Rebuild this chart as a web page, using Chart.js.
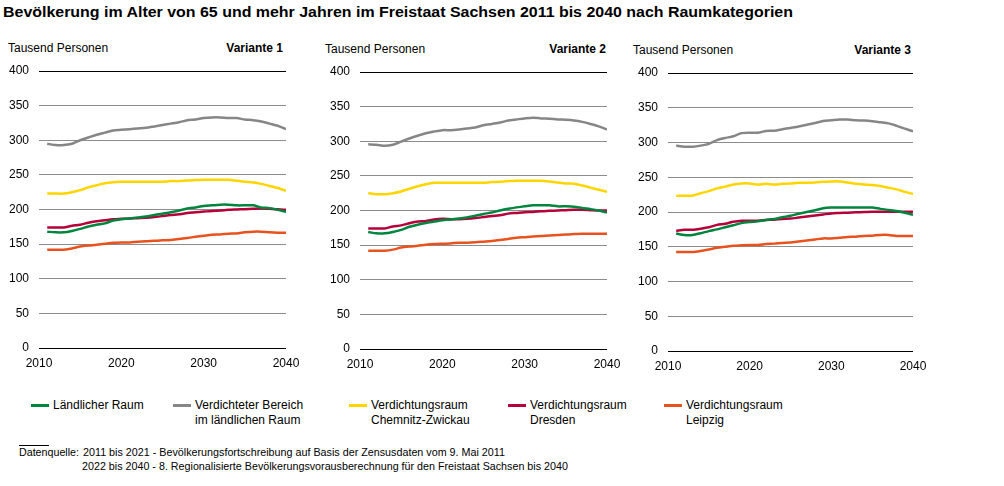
<!DOCTYPE html>
<html lang="de">
<head>
<meta charset="utf-8">
<title>Bevölkerung 65+ Sachsen</title>
<script src="https://cdn.jsdelivr.net/npm/chart.js@4.4.1/dist/chart.umd.min.js"></script>
<style>
  body { margin: 0; width: 1004px; height: 486px; background: #fff; position: relative; overflow: hidden;
         font-family: "Liberation Sans", Arial, sans-serif; color: #000; }
  .t { position: absolute; white-space: nowrap; line-height: 15px; font-size: 12px; }
  .fit { display: inline-block; transform-origin: left center; }
  .b { font-weight: bold; }
  canvas { position: absolute; }
  .mk { position: absolute; height: 3px; width: 18px; }
</style>
</head>
<body>

<div class="t b" style="left:3px;top:4px;font-size:14px;line-height:16px"><span class="fit" data-w="790">Bevölkerung im Alter von 65 und mehr Jahren im Freistaat Sachsen 2011 bis 2040 nach Raumkategorien</span></div>

<div class="t" style="left:8px;top:41px">Tausend Personen</div>
<div class="t b" style="right:721px;top:41px">Variante 1</div>
<div class="t" style="left:325px;top:42px">Tausend Personen</div>
<div class="t b" style="right:398px;top:42px">Variante 2</div>
<div class="t" style="left:633px;top:43px">Tausend Personen</div>
<div class="t b" style="right:93px;top:43px">Variante 3</div>

<canvas id="c1" width="310" height="320" style="left:0;top:60px;width:310px;height:320px"></canvas>
<canvas id="c2" width="310" height="320" style="left:321px;top:61px;width:310px;height:320px"></canvas>
<canvas id="c3" width="308" height="321" style="left:629px;top:62px;width:308px;height:321px"></canvas>

<div id="legend"></div>

<div style="position:absolute;left:19px;top:445px;width:30px;height:1px;background:#000"></div>
<div class="t" style="left:19px;top:445px;font-size:11px;line-height:14px"><span class="fit" data-w="60">Datenquelle:</span></div>
<div class="t" style="left:83px;top:445px;font-size:11px;line-height:14px"><span class="fit" data-w="422">2011 bis 2021 - Bevölkerungsfortschreibung auf Basis der Zensusdaten vom 9. Mai 2011</span></div>
<div class="t" style="left:82px;top:459px;font-size:11px;line-height:14px"><span class="fit" data-w="486">2022 bis 2040 - 8. Regionalisierte Bevölkerungsvorausberechnung für den Freistaat Sachsen bis 2040</span></div>

<script>
// Jahre 2011 bis 2040
const years = [2011, 2012, 2013, 2014, 2015, 2016, 2017, 2018, 2019, 2020,
               2021, 2022, 2023, 2024, 2025, 2026, 2027, 2028, 2029, 2030,
               2031, 2032, 2033, 2034, 2035, 2036, 2037, 2038, 2039, 2040];

const seriesNames = ['Ländlicher Raum', 'Verdichteter Bereich\nim ländlichen Raum',
                     'Verdichtungsraum\nChemnitz-Zwickau', 'Verdichtungsraum\nDresden', 'Verdichtungsraum\nLeipzig'];
const seriesColors = ['#00853f', '#868686', '#ffd500', '#b5003a', '#e8521e'];

const yTicks = [0, 50, 100, 150, 200, 250, 300, 350, 400];
const xTicks = [2010, 2020, 2030, 2040];

// Variante 1 (Tausend Personen)
const laendlich1   = [168, 167, 167, 169, 172, 175.5, 178, 180, 184, 186, 187, 188.5, 190, 192, 194, 196, 198.5, 201.5, 203, 205, 206, 207, 207, 206, 206, 206, 203, 202, 199.5, 196.5];
const verdichtet1  = [295, 293, 293, 295, 300, 304, 308, 311, 314, 315, 316, 317, 318, 320, 322, 324, 326, 329, 330, 332, 333, 333, 332, 332, 330, 329, 327, 324, 321, 316];
const chemnitz1    = [223, 223, 223, 225, 228, 232, 235, 238, 239.5, 240, 240, 240, 240, 240, 240, 241, 241, 242, 242.5, 243, 243, 243, 243, 241.5, 240, 239, 237, 234, 231, 227];
const dresden1     = [174, 174, 174, 176.5, 178, 181, 183, 184.5, 186, 186.5, 187, 187.5, 188, 189, 190.5, 192, 193, 195, 196, 197, 198, 198.5, 199.5, 200, 200.5, 201, 201.5, 201, 200.5, 199.5];
const leipzig1     = [142, 142, 142, 143.7, 146.5, 148, 149, 150.5, 152, 152.5, 152.5, 153.5, 154, 155, 155.5, 156, 157.5, 159, 160.5, 162, 163.5, 164, 165, 165.5, 167, 168, 168, 167, 166.5, 166.5];

// Variante 2
const laendlich2   = [169, 167, 167, 169, 172, 176.5, 179.5, 182, 184, 186, 187, 188.5, 190, 192.5, 195, 197, 200, 202.5, 204.5, 206, 207.5, 207.5, 207.5, 206, 206, 205.5, 203.5, 202, 200, 197];
const verdichtet2  = [295.5, 295, 293.5, 295, 299.5, 304, 308, 311.5, 314, 316, 316, 317, 318.5, 320, 323, 325, 327, 330, 331.5, 333, 334, 333, 332.5, 331.5, 331, 330, 328, 325, 321.5, 317];
const chemnitz2    = [225, 223.5, 223.5, 225, 227.5, 231.5, 235, 238, 240, 240, 240, 240, 240, 240, 240, 241, 241.5, 242.5, 243, 243, 243, 243, 242, 240.5, 239, 238.5, 236, 233, 230, 227];
const dresden2     = [174, 174, 174, 177, 178.5, 181.5, 184, 185, 187, 188, 187.5, 187.5, 188, 189, 190.5, 192, 193, 195.5, 196.5, 197.5, 198, 199, 199.5, 200, 200.5, 201, 201, 200.5, 200, 200];
const leipzig2     = [142, 142, 142, 143.5, 146.5, 148, 149, 150.5, 151.5, 152, 152.5, 153.5, 153.5, 154, 155, 156, 157.5, 159, 160.5, 161.5, 162.5, 163, 164, 164.5, 165.5, 166, 166.5, 166.5, 166.5, 166.5];

// Variante 3
const laendlich3   = [169, 167, 167, 169.5, 172.5, 175, 178, 181, 184, 185.5, 186.5, 188.5, 190, 192.5, 194.5, 197.5, 200, 202.5, 205.5, 206.5, 206.5, 206.5, 206.5, 206.5, 206.5, 204.5, 203, 201.5, 199, 196];
const verdichtet3  = [295.5, 294, 294, 295.5, 298, 303.5, 306.5, 309, 313.5, 314, 314, 316.5, 317, 319, 321, 323, 325.5, 328, 331, 332, 333, 333, 332, 331.5, 330.5, 329, 327.5, 324, 320, 316];
const chemnitz3    = [223.5, 223.5, 223.5, 227, 230, 234, 236.5, 239.5, 241, 241, 239.5, 240.5, 239.5, 240.5, 241, 242, 242, 242.5, 243.5, 244, 244, 242.5, 240.5, 239.5, 239, 237.5, 235, 232.5, 229, 226];
const dresden3     = [173, 174.5, 174.5, 176, 178, 181.5, 183, 186, 187.5, 187.5, 187.5, 188.5, 189, 190, 190.5, 192, 193.5, 195, 196.5, 198, 198.5, 199, 199.5, 200, 200.5, 200.5, 200.5, 200.5, 200.5, 200.5];
const leipzig3     = [142.5, 142.5, 142.5, 144, 146, 148.5, 150, 151.5, 152, 152.5, 152.5, 154, 154.5, 155.5, 156, 157.5, 159, 160.5, 162, 162, 163, 164, 164.5, 165.5, 166, 167, 167, 165.5, 165.5, 165.5];

const FONT = { family: '"Liberation Sans", Arial, sans-serif', size: 12 };

function makePanel(id, series) {
  const ctx = document.getElementById(id).getContext('2d');
  return new Chart(ctx, {
    type: 'line',
    data: {
      datasets: series.map((vals, i) => ({
        label: seriesNames[i],
        data: vals.map((v, k) => ({ x: years[k], y: v })),
        borderColor: seriesColors[i],
        borderWidth: 2.5,
        pointRadius: 0,
        tension: 0.25,
        fill: false,
      }))
    },
    options: {
      animation: false,
      responsive: false,
      devicePixelRatio: 1,
      layout: { padding: { top: 11, right: 24, bottom: 0, left: 0 } },
      plugins: { legend: { display: false }, tooltip: { enabled: false } },
      scales: {
        x: {
          type: 'linear', min: 2010, max: 2040,
          afterBuildTicks: s => { s.ticks = xTicks.map(v => ({ value: v })); },
          afterFit: s => { s.height = 32; },
          ticks: { color: '#000', font: FONT, padding: 8, maxRotation: 0, callback: v => String(v) },
          grid: { display: false, drawTicks: false },
          border: { display: false },
        },
        y: {
          min: 0, max: 400,
          afterBuildTicks: s => { s.ticks = yTicks.map(v => ({ value: v })); },
          // feste Achsenbreite, kein zusätzlicher Rand oben/unten
          afterFit: s => { s.width = 39; s.paddingTop = 0; s.paddingBottom = 0; },
          ticks: { color: '#000', font: FONT, padding: 10 },
          grid: {
            drawTicks: false,
            lineWidth: 1,
            color: c => (c.tick && (c.tick.value === 0 || c.tick.value === 400)) ? '#000' : '#8c8c8c',
          },
          border: { display: false },
        }
      }
    }
  });
}

makePanel('c1', [laendlich1, verdichtet1, chemnitz1, dresden1, leipzig1]);
makePanel('c2', [laendlich2, verdichtet2, chemnitz2, dresden2, leipzig2]);
makePanel('c3', [laendlich3, verdichtet3, chemnitz3, dresden3, leipzig3]);

// Legende unter den Diagrammen
const legendX = [31, 173, 349, 508, 664];
const legend = document.getElementById('legend');
seriesNames.forEach((name, i) => {
  const mk = document.createElement('div');
  mk.className = 'mk';
  mk.style.left = legendX[i] + 'px';
  mk.style.top = '404px';
  mk.style.background = seriesColors[i];
  legend.appendChild(mk);
  const tx = document.createElement('div');
  tx.className = 't';
  tx.style.left = (legendX[i] + 22) + 'px';
  tx.style.top = '398px';
  tx.innerHTML = name.replace('\n', '<br>');
  legend.appendChild(tx);
});

// Textbreiten an die Vorlage anpassen
document.querySelectorAll('.fit').forEach(el => {
  const w = +el.dataset.w;
  const cur = el.getBoundingClientRect().width;
  if (cur > 0) el.style.transform = 'scaleX(' + (w / cur).toFixed(3) + ')';
});
</script>
</body>
</html>
